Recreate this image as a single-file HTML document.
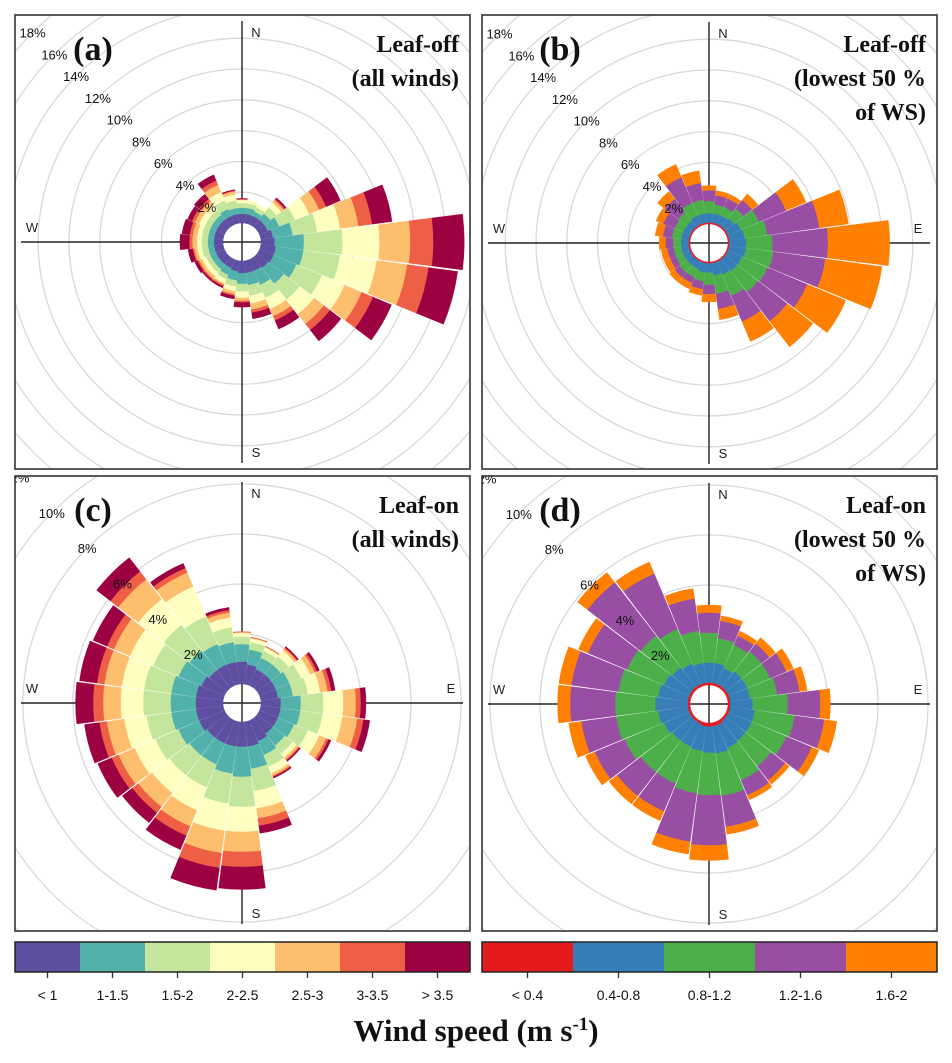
<!DOCTYPE html>
<html><head><meta charset="utf-8"><style>
html,body{margin:0;padding:0;background:#fff;}
svg{display:block;font-family:"Liberation Sans",sans-serif;}
</style></head><body>
<svg id="root" width="952" height="1063" viewBox="0 0 952 1063" xmlns="http://www.w3.org/2000/svg">
<defs>
<clipPath id="clipA"><rect x="15" y="15" width="455" height="454"/></clipPath>
<clipPath id="clipB"><rect x="482" y="15" width="455" height="454"/></clipPath>
<clipPath id="clipC"><rect x="15" y="476" width="455" height="455"/></clipPath>
<clipPath id="clipD"><rect x="482" y="476" width="455" height="455"/></clipPath>
</defs>
</svg>
<script>
const directions = [0,15,30,45,60,75,90,105,120,135,150,165,180,195,210,225,240,255,270,285,300,315,330,345];
const speedClassesAll = ["< 1","1-1.5","1.5-2","2-2.5","2.5-3","3-3.5","> 3.5"];
const speedClassesLow = ["< 0.4","0.4-0.8","0.8-1.2","1.2-1.6","1.6-2"];
const colorsAll = ["#5e4fa2","#52b1aa","#c4e69c","#fdfebf","#fdbe6e","#ef5f45","#9e0142"];
const colorsLow = ["#e41a1c","#377eb8","#4daf4a","#984ea3","#ff7f00"];

// Panel (a): leaf-off, all winds (percent per speed class)
const aS1 = [0.6,0.6,0.6,0.6,0.6,0.8,0.9,1.0,1.0,0.9,0.8,0.8,0.8,0.7,0.6,0.6,0.6,0.6,0.6,0.6,0.6,0.6,0.6,0.6];
const aS2 = [0.4,0.4,0.3,0.5,0.8,1.3,1.9,1.8,1.6,1.3,1.0,0.8,0.7,0.6,0.5,0.4,0.4,0.4,0.4,0.4,0.4,0.4,0.5,0.4];
const aS3 = [0.3,0.3,0.3,0.5,1.1,1.6,2.5,2.4,1.8,1.3,0.9,0.7,0.5,0.4,0.3,0.3,0.3,0.4,0.4,0.4,0.4,0.4,0.6,0.5];
const aS4 = [0.2,0.2,0.2,0.4,1.0,1.5,2.4,2.4,1.6,1.2,0.8,0.5,0.4,0.3,0.3,0.3,0.3,0.3,0.3,0.3,0.4,0.4,0.6,0.4];
const aS5 = [0.05,0,0,0.2,0.7,1.2,2.0,2.0,1.2,0.8,0.5,0.4,0.2,0.2,0.1,0.2,0.2,0.2,0.3,0.3,0.3,0.3,0.5,0.2];
const aS6 = [0,0,0,0.1,0.5,0.9,1.5,1.4,0.8,0.5,0.3,0.2,0.1,0.1,0.1,0.1,0.1,0.1,0.2,0.2,0.2,0.2,0.3,0.05];
const aS7 = [0.05,0,0,0.1,1.0,1.3,2.0,1.9,1.3,0.9,0.6,0.4,0.3,0.2,0.1,0.1,0.2,0.3,0.6,0.5,0.3,0.4,0.4,0.05];

// Panel (b): leaf-off, lowest 50% of WS
const bS1 = [0.1,0.1,0.1,0.1,0.1,0.1,0.1,0.1,0.1,0.1,0.1,0.1,0.1,0.1,0.1,0.1,0.1,0.1,0.1,0.1,0.1,0.1,0.1,0.1];
const bS2 = [0.6,0.6,0.6,0.7,0.9,1.0,1.1,1.1,1.0,1.0,0.9,0.8,0.6,0.6,0.5,0.5,0.5,0.5,0.5,0.5,0.5,0.5,0.6,0.6];
const bS3 = [0.8,0.6,0.6,0.8,1.3,1.5,1.7,1.8,1.8,1.7,1.5,1.2,0.8,0.6,0.6,0.6,0.5,0.5,0.5,0.6,0.6,0.7,0.9,0.9];
const bS4 = [0.7,0.6,0.6,0.7,1.9,3.4,3.6,3.4,2.8,2.4,1.8,1.0,0.6,0.5,0.4,0.4,0.4,0.4,0.5,0.6,0.8,1.1,1.8,1.1];
const bS5 = [0.3,0.3,0.3,0.5,1.4,1.9,4.0,3.7,2.7,2.1,1.4,0.7,0.5,0.4,0.4,0.4,0.4,0.4,0.4,0.5,0.5,0.6,0.9,0.8];

// Panel (c): leaf-on, all winds
const cS1 = [0.9,0.8,0.7,0.7,0.7,0.7,0.8,0.8,0.8,0.8,0.9,1.0,1.0,1.0,1.0,1.0,1.1,1.1,1.1,1.1,1.0,0.9,0.9,0.9];
const cS2 = [0.7,0.6,0.5,0.5,0.6,0.6,0.8,0.8,0.7,0.6,0.6,0.9,1.2,1.1,0.9,0.9,0.9,1.0,1.0,1.0,1.0,1.0,0.9,0.8];
const cS3 = [0.3,0.3,0.3,0.4,0.5,0.6,0.9,0.9,0.6,0.4,0.5,0.9,1.2,1.2,1.0,1.0,1.0,1.0,1.1,1.1,1.1,1.3,1.2,0.6];
const cS4 = [0.15,0.15,0.15,0.3,0.4,0.5,0.8,0.8,0.5,0.2,0.3,0.7,1.0,1.1,1.0,0.9,0.9,0.9,0.9,0.9,1.0,1.3,1.3,0.4];
const cS5 = [0.03,0.03,0.03,0.1,0.2,0.3,0.5,0.6,0.3,0.1,0.1,0.4,0.8,0.9,0.7,0.7,0.7,0.7,0.7,0.7,0.7,1.0,0.6,0.2];
const cS6 = [0.02,0.02,0.02,0.05,0.1,0.15,0.2,0.25,0.1,0.05,0.05,0.3,0.6,0.6,0.4,0.3,0.3,0.3,0.4,0.3,0.3,0.4,0.2,0.1];
const cS7 = [0,0,0,0.05,0.1,0.15,0.2,0.25,0.1,0.05,0.05,0.3,0.9,0.9,0.6,0.5,0.6,0.6,0.7,0.7,0.6,0.7,0.2,0.1];

// Panel (d): leaf-on, lowest 50% of WS
const dS1 = [0.1,0.1,0.1,0.1,0.1,0.1,0.1,0.1,0.1,0.1,0.15,0.15,0.15,0.15,0.1,0.1,0.1,0.1,0.1,0.1,0.1,0.1,0.1,0.1];
const dS2 = [0.8,0.8,0.7,0.8,0.8,0.8,0.9,1.0,1.0,1.0,1.0,1.1,1.05,1.0,1.0,1.0,1.1,1.2,1.3,1.2,1.1,1.0,0.9,0.8];
const dS3 = [1.2,1.0,1.0,1.0,1.0,1.1,1.4,1.6,1.5,1.3,1.4,1.7,1.7,1.7,1.6,1.6,1.7,1.7,1.6,1.6,1.6,1.6,1.5,1.3];
const dS4 = [0.8,0.7,0.4,0.4,0.7,0.9,1.3,1.2,1.1,0.7,0.65,1.25,2.0,1.95,1.2,1.2,1.3,1.4,1.8,1.9,1.7,2.7,2.4,1.3];
const dS5 = [0.3,0.2,0.2,0.3,0.3,0.3,0.4,0.5,0.3,0.2,0.2,0.3,0.6,0.5,0.4,0.4,0.4,0.5,0.5,0.5,0.4,0.5,0.5,0.4];

const ringsAB = [2,4,6,8,10,12,14,16,18,20,22];
const ringsCD = [2,4,6,8,10,12,14];
const ringLabelsAB = [2,4,6,8,10,12,14,16,18];
const ringLabelsCD = [2,4,6,8,10,12];

const NS = "http://www.w3.org/2000/svg";
const root = document.getElementById('root');
function mk(tag, attrs, parent){
  const e = document.createElementNS(NS, tag);
  for (const k in attrs) e.setAttribute(k, attrs[k]);
  (parent||root).appendChild(e);
  return e;
}

function drawPanel(cfg){
  const g = mk('g', {'clip-path':'url(#'+cfg.clip+')'});
  
  
  const rScale = p => cfg.hole + p*cfg.k;
  // rings
  cfg.rings.forEach(p=>{
    const c = mk('circle',{cx:cfg.cx,cy:cfg.cy,r:rScale(p),fill:'none',stroke:'#d9d9d9','stroke-width':1.3}, g);
    
    
  });
  // axes
  const ax = mk('g',{stroke:'#222','stroke-width':1.4}, g);
  
  
  mk('line',{x1:cfg.cx,y1:cfg.cy-221,x2:cfg.cx,y2:cfg.cy+221},ax);
  mk('line',{x1:cfg.cx-221,y1:cfg.cy,x2:cfg.cx+221,y2:cfg.cy},ax);
  // compass letters
  [['N',cfg.cx+14,cfg.cy-205],['S',cfg.cx+14,cfg.cy+215],['W',cfg.cx-210,cfg.cy-10],['E',cfg.cx+209,cfg.cy-10]].forEach(d=>{
    const t = mk('text',{x:d[1],y:d[2],'font-size':13,'text-anchor':'middle',fill:'#222'},g);
    t.textContent = d[0];
    
    
  });
  // bars
  const half = 7.2*Math.PI/180;
  directions.forEach((deg,i)=>{
    const th = deg*Math.PI/180;
    let cum = 0;
    cfg.series.forEach((s,j)=>{
      const v = s[i];
      if (v<=0) return;
      const r0 = rScale(cum), r1 = rScale(cum+v);
      cum += v;
      const a0 = th-half, a1 = th+half;
      const P = (r,a)=>[(cfg.cx+r*Math.sin(a)).toFixed(2),(cfg.cy-r*Math.cos(a)).toFixed(2)];
      const p1=P(r0,a0),p2=P(r1,a0),p3=P(r1,a1),p4=P(r0,a1);
      const d = `M${p1}L${p2}A${r1},${r1} 0 0 1 ${p3}L${p4}A${r0},${r0} 0 0 0 ${p1}Z`;
      const path = mk('path',{d:d,fill:cfg.colors[j],stroke:cfg.colors[j],'stroke-width':0.4},g);
      
      
    });
  });
  // ring labels along NW diagonal
  cfg.labels.forEach(p=>{
    const r = rScale(p);
    const t = mk('text',{x:cfg.cx-r*Math.SQRT1_2,y:cfg.cy-r*Math.SQRT1_2+5,'font-size':13,'text-anchor':'middle',fill:'#111'},g);
    t.textContent = p+'%';
    
    
  });
  // panel title
  const lt = mk('text',{x:cfg.bx+78,y:cfg.by+45,'font-size':34,'font-weight':'bold','font-family':'Liberation Serif, serif','text-anchor':'middle',fill:'#111'},g);
  lt.textContent = cfg.letter;
  
  
  cfg.title.forEach((line,k)=>{
    const t = mk('text',{x:cfg.bx+444,y:cfg.by+37+k*34,'font-size':24,'font-weight':'bold','font-family':'Liberation Serif, serif','text-anchor':'end',fill:'#111'},g);
    t.textContent = line;
    
    
  });
  // frame
  const fr = mk('rect',{x:cfg.bx,y:cfg.by,width:455,height:cfg.bh,fill:'none',stroke:'#333','stroke-width':1.6});
  
  
}

drawPanel({key:'a',name:'panel-a-leaf-off-all',clip:'clipA',cx:242,cy:242,hole:19,k:15.4,rings:ringsAB,labels:ringLabelsAB,series:[aS1,aS2,aS3,aS4,aS5,aS6,aS7],colors:colorsAll,bx:15,by:15,bh:454,letter:'(a)',title:['Leaf-off','(all winds)']});
drawPanel({key:'b',name:'panel-b-leaf-off-low',clip:'clipB',cx:709,cy:243,hole:19,k:15.4,rings:ringsAB,labels:ringLabelsAB,series:[bS1,bS2,bS3,bS4,bS5],colors:colorsLow,bx:482,by:15,bh:454,letter:'(b)',title:['Leaf-off','(lowest 50 %','of WS)']});
drawPanel({key:'c',name:'panel-c-leaf-on-all',clip:'clipC',cx:242,cy:703,hole:19,k:25,rings:ringsCD,labels:ringLabelsCD,series:[cS1,cS2,cS3,cS4,cS5,cS6,cS7],colors:colorsAll,bx:15,by:476,bh:455,letter:'(c)',title:['Leaf-on','(all winds)']});
drawPanel({key:'d',name:'panel-d-leaf-on-low',clip:'clipD',cx:709,cy:704,hole:19,k:25,rings:ringsCD,labels:ringLabelsCD,series:[dS1,dS2,dS3,dS4,dS5],colors:colorsLow,bx:482,by:476,bh:455,letter:'(d)',title:['Leaf-on','(lowest 50 %','of WS)']});

function drawLegend(x0, w, classes, colors, name){
  const g = mk('g',{});
  
  
  const cw = w/classes.length;
  classes.forEach((c,i)=>{
    const r = mk('rect',{x:x0+i*cw,y:942,width:cw+0.5,height:30,fill:colors[i]},g);
    
    
    mk('line',{x1:x0+(i+0.5)*cw,y1:972,x2:x0+(i+0.5)*cw,y2:978,stroke:'#333','stroke-width':1.3},g);
    const t = mk('text',{x:x0+(i+0.5)*cw,y:1000,'font-size':14,'text-anchor':'middle',fill:'#111'},g);
    t.textContent = c;
    
    
  });
  mk('rect',{x:x0,y:942,width:w,height:30,fill:'none',stroke:'#222','stroke-width':1.5},g);
}
drawLegend(15,455,speedClassesAll,colorsAll,'legend-all-winds');
drawLegend(482,455,speedClassesLow,colorsLow,'legend-lowest-50');

const title = mk('text',{x:476,y:1041,'font-size':31,'font-weight':'bold','font-family':'Liberation Serif, serif','text-anchor':'middle',fill:'#111'});


title.textContent = 'Wind speed (m s';
const sup = mk('tspan',{'font-size':19,dy:-11},title);
sup.textContent = '-1';
const close = mk('tspan',{'font-size':31,dy:11},title);
close.textContent = ')';
</script>
</body></html>
